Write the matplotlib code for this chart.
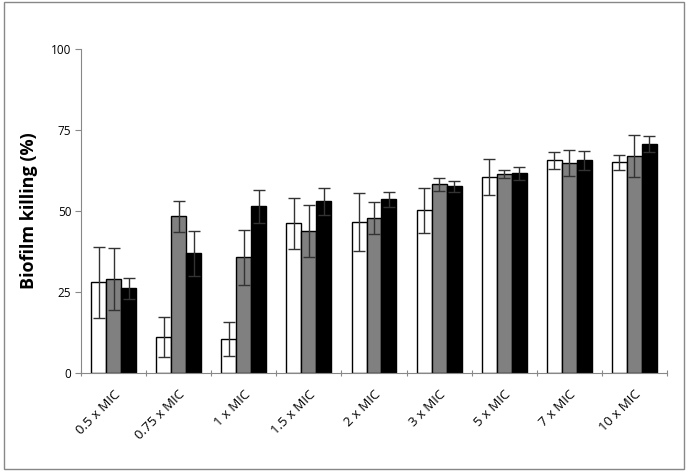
import numpy as np
import matplotlib.pyplot as plt
from matplotlib.patches import Rectangle

# categories (concentration)
labels = ['0.5 x MIC', '0.75 x MIC', '1 x MIC', '1.5 x MIC', '2 x MIC',
          '3 x MIC', '5 x MIC', '7 x MIC', '10 x MIC']
# mean biofilm killing (%) per series
white_vals = [27.9, 10.9, 10.5, 46.1, 46.5, 50.2, 60.4, 65.6, 65.0]
gray_vals = [28.9, 48.3, 35.6, 43.7, 47.7, 58.2, 61.5, 64.9, 66.9]
black_vals = [26.1, 36.9, 51.4, 52.9, 53.6, 57.6, 61.6, 65.6, 70.7]
# error (+/-)
white_err = [11.0, 6.2, 5.3, 7.8, 8.9, 7.0, 5.5, 2.7, 2.4]
gray_err = [9.5, 4.8, 8.5, 8.1, 4.9, 2.0, 1.2, 4.0, 6.5]
black_err = [3.3, 7.0, 5.1, 4.1, 2.3, 1.7, 2.0, 3.0, 2.4]

plt.rcParams['font.family'] = ['Open Sans', 'DejaVu Sans']

fig = plt.figure(figsize=(6.87, 4.72), dpi=100)
ax = fig.add_axes([0.1179, 0.2104, 0.8530, 0.6858])

x = np.arange(len(labels))
w = 0.23
series = [(white_vals, white_err, 'white'),
          (gray_vals, gray_err, '#808080'),
          (black_vals, black_err, 'black')]
for k, (vals, err, col) in enumerate(series):
    pos = x + (k - 1) * w
    ax.bar(pos, vals, w, color=col, edgecolor='black', linewidth=1, zorder=2)
    ax.errorbar(pos, vals, yerr=err, fmt='none', ecolor='#333333',
                elinewidth=1, capsize=4, capthick=1, zorder=3)

ax.set_xlim(-0.5, len(labels) - 0.5)
ax.set_ylim(0, 100)
ax.set_yticks([0, 25, 50, 75, 100])
ax.tick_params(axis='y', labelsize=8.5, length=4, color='#888888', pad=3)

# boundaries as major ticks, labels on minor ticks at centres
ax.set_xticks(np.arange(len(labels) + 1) - 0.5)
ax.set_xticklabels([])
ax.set_xticks(x, minor=True)
ax.set_xticklabels(labels, minor=True, rotation=45, ha='right',
                   rotation_mode='anchor', fontsize=9.5)
ax.tick_params(axis='x', which='major', length=5, color='#888888', direction='inout')
ax.tick_params(axis='x', which='minor', length=0, pad=11)

for s in ['top', 'right']:
    ax.spines[s].set_visible(False)
for s in ['left', 'bottom']:
    ax.spines[s].set_color('#888888')

ax.set_ylabel('Biofilm killing (%)', fontsize=13, fontweight='bold', labelpad=9)

fig.patches.append(Rectangle((0.006, 0.006), 0.99, 0.99, transform=fig.transFigure,
                             fill=False, edgecolor='#888888', linewidth=1))

fig.savefig('out.png', dpi=100)
